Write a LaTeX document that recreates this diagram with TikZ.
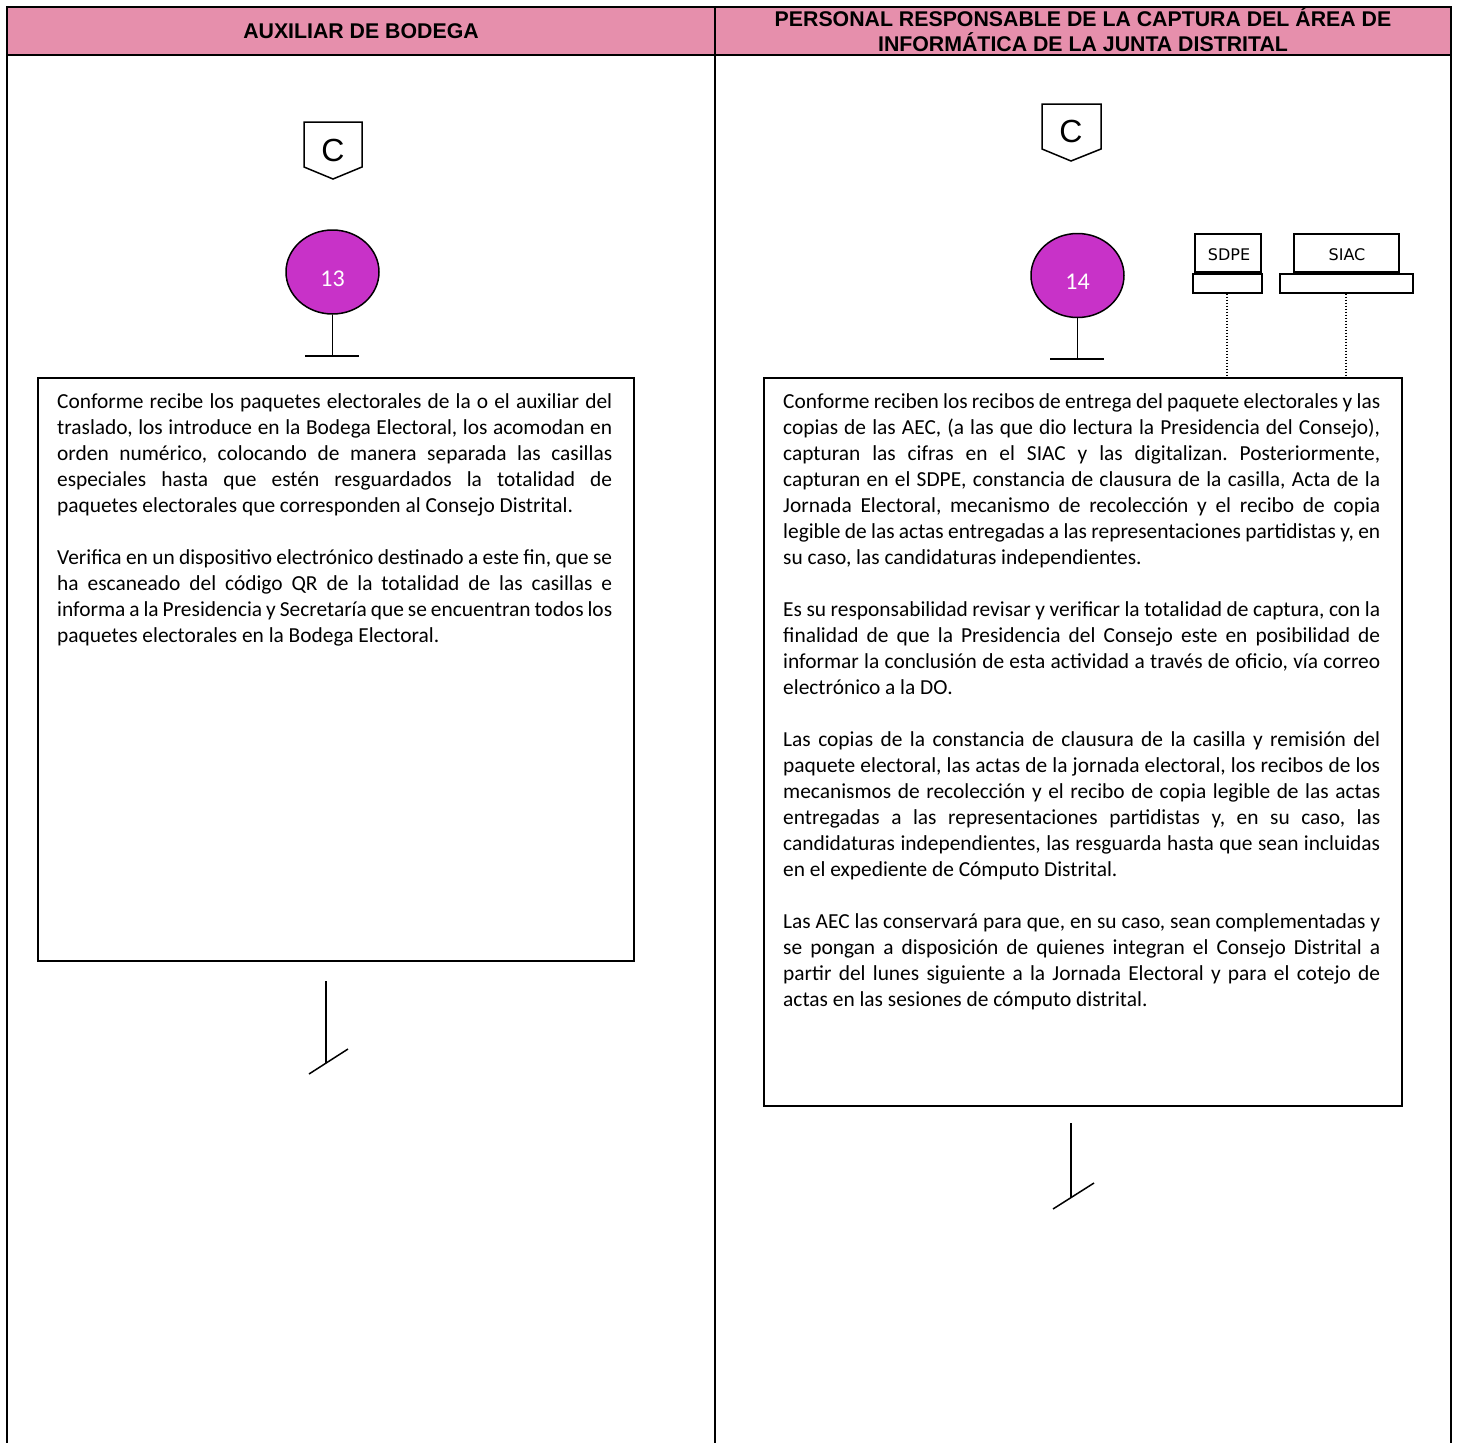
\documentclass[tikz,border=0pt]{standalone}
\usepackage{fontspec}
\setmainfont{Carlito}
\newfontfamily\arialf{Liberation Sans}
\newfontfamily\verdf{DejaVu Sans}
\usetikzlibrary{shapes.geometric}
\definecolor{hdr}{RGB}{230,143,172}
\definecolor{mag}{RGB}{200,50,200}
\frenchspacing
\newcommand\jl[2]{\hbox to #1{\spaceskip=0.226em plus 1fil minus 0.06em\relax #2}}
\newcommand\nl[1]{\hbox{#1}}
\tikzset{
  frame/.style={line width=2},
  hdrtext/.style={font=\arialf\bfseries\fontsize{21.3}{25}\selectfont, align=center, inner sep=0},
  procbox/.style={draw, line width=1.5, anchor=north west, inner sep=0},
  bodytext/.style={anchor=base west, inner sep=0, font=\fontsize{21.4}{26}\selectfont},
  stepcircle/.style={ellipse, draw, fill=mag, line width=1.5, minimum width=93, minimum height=84, inner sep=0},
  stepnum/.style={text=white, font=\fontsize{24}{24}\selectfont, inner sep=0},
  conn/.style={line width=1.5},
  sysbox/.style={draw, line width=1.5, anchor=north west, inner sep=0},
  systext/.style={font=\verdf\fontsize{16}{16}\selectfont, inner sep=0},
  dotline/.style={dash pattern=on 1.5pt off 1.5pt, line width=2},
}
\begin{document}
\begin{tikzpicture}[x=1pt,y=-1pt]
\useasboundingbox (0,0) rectangle (1457,1443);
% header and lanes
\fill[hdr] (7,7) rectangle (1451,55);
\draw[frame] (7,1443) -- (7,7) -- (1451,7) -- (1451,1443);
\draw[frame] (7,55) -- (1451,55);
\draw[frame] (715,7) -- (715,1443);
\node[hdrtext] (h1) at (361,31) {AUXILIAR DE BODEGA};
\node[hdrtext] (h2) at (1083,29.5) {PERSONAL RESPONSABLE DE LA CAPTURA DEL ÁREA DE\\INFORMÁTICA DE LA JUNTA DISTRITAL};

% off-page connectors
\draw[conn] (304,122) -- (362,122) -- (362,167) -- (333,179) -- (304,167) -- cycle;
\node[font=\arialf\fontsize{32}{32}\selectfont, inner sep=0] (cA) at (333,150) {C};
\draw[conn] (1042,104) -- (1101,104) -- (1101,149) -- (1071,161) -- (1042,149) -- cycle;
\node[font=\arialf\fontsize{32}{32}\selectfont, inner sep=0] (cB) at (1071,131) {C};

% step 13
\node[stepcircle] (s13) at (332.5,272) {};
\node[stepnum] (n13) at (332.5,279) {13};
\coordinate (b13) at (332.5,356);
\draw[conn] (s13.south) -- (b13);
\draw[conn] (305,356) -- (359,356);

% step 14
\node[stepcircle] (s14) at (1077.5,275.5) {};
\node[stepnum] (n14) at (1077.5,282) {14};
\coordinate (b14) at (1077.5,359);
\draw[conn] (s14.south) -- (b14);
\draw[conn] (1050,359) -- (1104,359);

% systems
\node[sysbox, minimum width=66, minimum height=38] (sdpe) at (1194,233) {};
\node[systext] (sdpet) at (1229,254.5) {SDPE};
\node[sysbox, minimum width=69, minimum height=19] (sdpeb) at (1192,273) {};
\node[sysbox, minimum width=105, minimum height=38] (siac) at (1293,233) {};
\node[systext] (siact) at (1347,254.5) {SIAC};
\node[sysbox, minimum width=133, minimum height=19] (siacb) at (1279,273) {};

% boxes
\node[procbox, minimum width=596, minimum height=583] (boxA) at (37,377) {};
\node[procbox, minimum width=638, minimum height=728] (boxB) at (763,377) {};

\draw[dotline] (sdpeb.south) -- (sdpeb.south |- boxB.north);
\draw[dotline] (siacb.south) -- (siacb.south |- boxB.north);

\node[bodytext] (txtA) at (57,408) {\parbox[t]{555pt}{\baselineskip=26pt
\jl{555pt}{Conforme recibe los paquetes electorales de la o el auxiliar del}
\jl{555pt}{traslado, los introduce en la Bodega Electoral, los acomodan en}
\jl{555pt}{orden numérico, colocando de manera separada las casillas}
\jl{555pt}{especiales hasta que estén resguardados la totalidad de}
\nl{paquetes electorales que corresponden al Consejo Distrital.}
\nl{\strut}
\jl{555pt}{Verifica en un dispositivo electrónico destinado a este fin, que se}
\jl{555pt}{ha escaneado del código QR de la totalidad de las casillas e}
\jl{555pt}{informa a la Presidencia y Secretaría que se encuentran todos los}
\nl{paquetes electorales en la Bodega Electoral.}}};

\node[bodytext] (txtB) at (783,408) {\parbox[t]{597pt}{\baselineskip=26pt
\jl{597pt}{Conforme reciben los recibos de entrega del paquete electorales y las}
\jl{597pt}{copias de las AEC, (a las que dio lectura la Presidencia del Consejo),}
\jl{597pt}{capturan las cifras en el SIAC y las digitalizan. Posteriormente,}
\jl{597pt}{capturan en el SDPE, constancia de clausura de la casilla, Acta de la}
\jl{597pt}{Jornada Electoral, mecanismo de recolección y el recibo de copia}
\jl{597pt}{legible de las actas entregadas a las representaciones partidistas y, en}
\nl{su caso, las candidaturas independientes.}
\nl{\strut}
\jl{597pt}{Es su responsabilidad revisar y verificar la totalidad de captura, con la}
\jl{597pt}{finalidad de que la Presidencia del Consejo este en posibilidad de}
\jl{597pt}{informar la conclusión de esta actividad a través de oficio, vía correo}
\nl{electrónico a la DO.}
\nl{\strut}
\jl{597pt}{Las copias de la constancia de clausura de la casilla y remisión del}
\jl{597pt}{paquete electoral, las actas de la jornada electoral, los recibos de los}
\jl{597pt}{mecanismos de recolección y el recibo de copia legible de las actas}
\jl{597pt}{entregadas a las representaciones partidistas y, en su caso, las}
\jl{597pt}{candidaturas independientes, las resguarda hasta que sean incluidas}
\nl{en el expediente de Cómputo Distrital.}
\nl{\strut}
\jl{597pt}{Las AEC las conservará para que, en su caso, sean complementadas y}
\jl{597pt}{se pongan a disposición de quienes integran el Consejo Distrital a}
\jl{597pt}{partir del lunes siguiente a la Jornada Electoral y para el cotejo de}
\nl{actas en las sesiones de cómputo distrital.}}};

% end symbols
\coordinate (eA1) at (326,981);
\coordinate (eA2) at (326,1063);
\draw[conn] (eA1) -- (eA2);
\draw[conn] (309,1074) -- (348,1049);
\coordinate (eB1) at (1071,1123);
\coordinate (eB2) at (1071,1198);
\draw[conn] (eB1) -- (eB2);
\draw[conn] (1053,1209) -- (1094,1183);
\end{tikzpicture}
\end{document}
